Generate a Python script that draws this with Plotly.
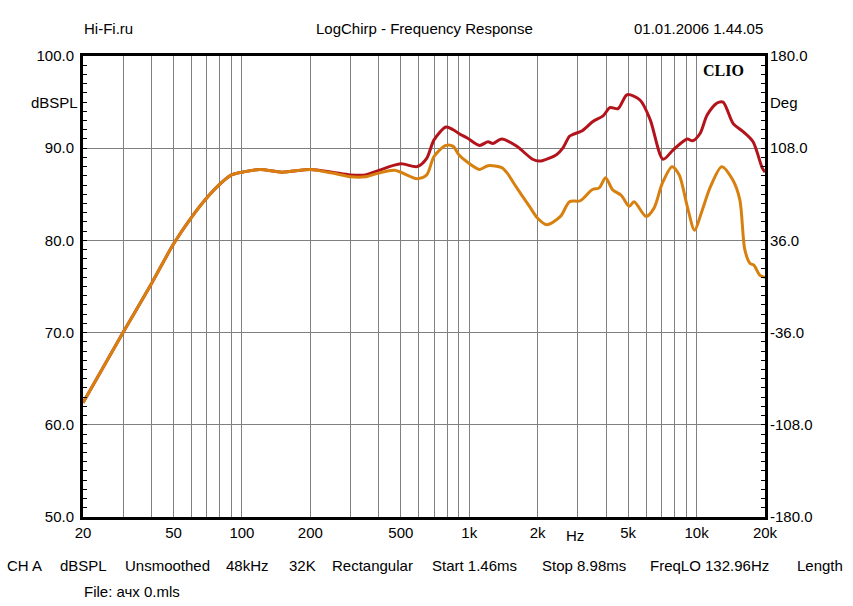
import plotly.graph_objects as go

# curve 1 (dark red)
freq_red = [20, 30, 40, 50, 60, 70, 80, 90, 100, 120, 150, 200, 250, 300, 350, 400, 500, 590,
            650, 700, 790, 850, 900, 980, 1110, 1210, 1270, 1390, 1620, 1900, 2040, 2420, 2580,
            2760, 2860, 3140, 3500, 3880, 4160, 4520, 4950, 5650, 6250, 7120, 7880, 9090, 9600,
            10360, 11130, 12310, 13080, 14470, 16020, 17720, 19420, 20000]
spl_red = [62.4, 70.0, 75.3, 79.6, 82.5, 84.6, 86.1, 87.1, 87.4, 87.7, 87.4, 87.7, 87.4, 87.1,
           87.1, 87.6, 88.3, 88.0, 88.9, 90.9, 92.3, 92.0, 91.6, 91.1, 90.3, 90.7, 90.5, 91.0,
           90.2, 88.8, 88.6, 89.3, 90.0, 91.3, 91.5, 91.9, 92.9, 93.5, 94.4, 94.3, 95.8, 95.2,
           93.1, 88.8, 89.8, 91.0, 90.8, 91.6, 93.6, 94.9, 95.0, 92.7, 91.8, 90.7, 87.9, 87.4]

# curve 2 (orange)
freq_org = [20, 30, 40, 50, 60, 70, 80, 90, 100, 120, 150, 200, 250, 300, 350, 400, 470, 590,
            650, 700, 790, 850, 900, 980, 1110, 1210, 1390, 1470, 1570, 1850, 2000, 2190, 2520,
            2760, 3080, 3470, 3730, 3980, 4270, 4660, 5050, 5310, 6000, 6500, 7070, 7800, 8390,
            9100, 9800, 10500, 11500, 12900, 14400, 15500, 16300, 17200, 17900, 19000, 20000]
spl_org = [62.4, 70.0, 75.3, 79.6, 82.5, 84.6, 86.1, 87.1, 87.4, 87.7, 87.4, 87.7, 87.3, 86.9,
           86.9, 87.3, 87.6, 86.7, 87.1, 89.1, 90.3, 90.2, 89.3, 88.5, 87.7, 88.1, 87.9, 87.3,
           86.2, 83.6, 82.4, 81.7, 82.6, 84.2, 84.3, 85.5, 85.7, 86.8, 85.5, 84.9, 83.7, 84.2,
           82.6, 83.5, 86.2, 88.0, 87.1, 83.7, 81.1, 83.0, 85.8, 88.0, 86.6, 84.4, 79.0, 77.5,
           77.3, 76.2, 76.0]

x_grid = [20, 30, 40, 50, 60, 70, 80, 90, 100, 200, 300, 400, 500, 600, 700, 800, 900,
          1000, 2000, 3000, 4000, 5000, 6000, 7000, 8000, 9000, 10000, 20000]
x_labels = {20: "20", 50: "50", 100: "100", 200: "200", 500: "500", 1000: "1k",
            2000: "2k", 5000: "5k", 10000: "10k", 20000: "20k"}
y_left = [50, 60, 70, 80, 90, 100]
y_right = [-180, -108, -36, 36, 108, 180]

FONT = "Liberation Sans"
L, R, T, B = 83, 765, 56, 517


def px(x, y):
    return (x - L) / (R - L), (B - y) / (B - T)


fig = go.Figure()
fig.add_trace(go.Scatter(x=freq_red, y=spl_red, mode="lines", line=dict(color="#B3141C", width=3,
                                                                        shape="spline", smoothing=0.8),
                         showlegend=False, hoverinfo="skip"))
fig.add_trace(go.Scatter(x=freq_org, y=spl_org, mode="lines", line=dict(color="#D8800F", width=3,
                                                                        shape="spline", smoothing=0.8),
                         showlegend=False, hoverinfo="skip"))
fig.add_trace(go.Scatter(x=[], y=[], yaxis="y2", showlegend=False))

fig.update_layout(
    width=853, height=606,
    margin=dict(l=L, r=853 - R, t=T, b=606 - B),
    paper_bgcolor="white", plot_bgcolor="white",
    font=dict(family=FONT, size=15, color="black"),
    xaxis=dict(
        type="log", range=[1.30103, 4.30103],
        tickvals=x_grid, ticktext=[x_labels.get(v, "") for v in x_grid],
        showgrid=True, gridcolor="#808080", gridwidth=1,
        showline=True, linecolor="black", linewidth=3, mirror=True,
        ticks="", zeroline=False,
    ),
    yaxis=dict(
        range=[50, 100], tickvals=y_left, ticktext=[f"{v:.1f}" for v in y_left],
        showgrid=True, gridcolor="#808080", gridwidth=1,
        showline=True, linecolor="black", linewidth=3, mirror=True,
        ticks="inside", ticklen=4, tickcolor="black", ticklabelstandoff=3,
        minor=dict(dtick=1, ticks="inside", ticklen=4, tickcolor="black", showgrid=False),
        zeroline=False,
    ),
    yaxis2=dict(
        overlaying="y", side="right", range=[-180, 180],
        tickvals=y_right, ticktext=[f"{v:.1f}" for v in y_right],
        showgrid=False, zeroline=False, ticklabelstandoff=4,
        ticks="inside", ticklen=4, tickcolor="black",
        minor=dict(dtick=7.2, tick0=0, ticks="inside", ticklen=4, tickcolor="black"),
    ),
)

notes = [
    ("Hi-Fi.ru", 82, 29, "left"),
    ("LogChirp - Frequency Response", 424, 29, "center"),
    ("01.01.2006 1.44.05", 765, 29, "right"),
    ("dBSPL", 80, 103, "right"),
    ("Deg", 768, 103, "left"),
    ("Hz", 575, 535, "center"),
    ("CH A", 5, 565, "left"),
    ("dBSPL", 58, 565, "left"),
    ("Unsmoothed", 123, 565, "left"),
    ("48kHz", 224, 565, "left"),
    ("32K", 287, 565, "left"),
    ("Rectangular", 330, 565, "left"),
    ("Start 1.46ms", 430, 565, "left"),
    ("Stop 8.98ms", 540, 565, "left"),
    ("FreqLO 132.96Hz", 648, 565, "left"),
    ("Length", 795, 565, "left"),
    ("File: ачх 0.mls", 82, 591, "left"),
]
for text, x, y, anchor in notes:
    ax, ay = px(x, y)
    fig.add_annotation(text=text, x=ax, y=ay, xref="paper", yref="paper", xanchor=anchor,
                       yanchor="middle", showarrow=False, font=dict(family=FONT, size=15))

cx, cy = px(723, 70)
fig.add_annotation(text="<b>CLIO</b>", x=cx, y=cy, xref="paper", yref="paper", showarrow=False,
                   xanchor="center", yanchor="middle",
                   font=dict(family="Liberation Serif", size=16, color="black"))

fig.write_html("out.html", config={"displayModeBar": False},
               post_script="document.body.style.margin='0px';")
